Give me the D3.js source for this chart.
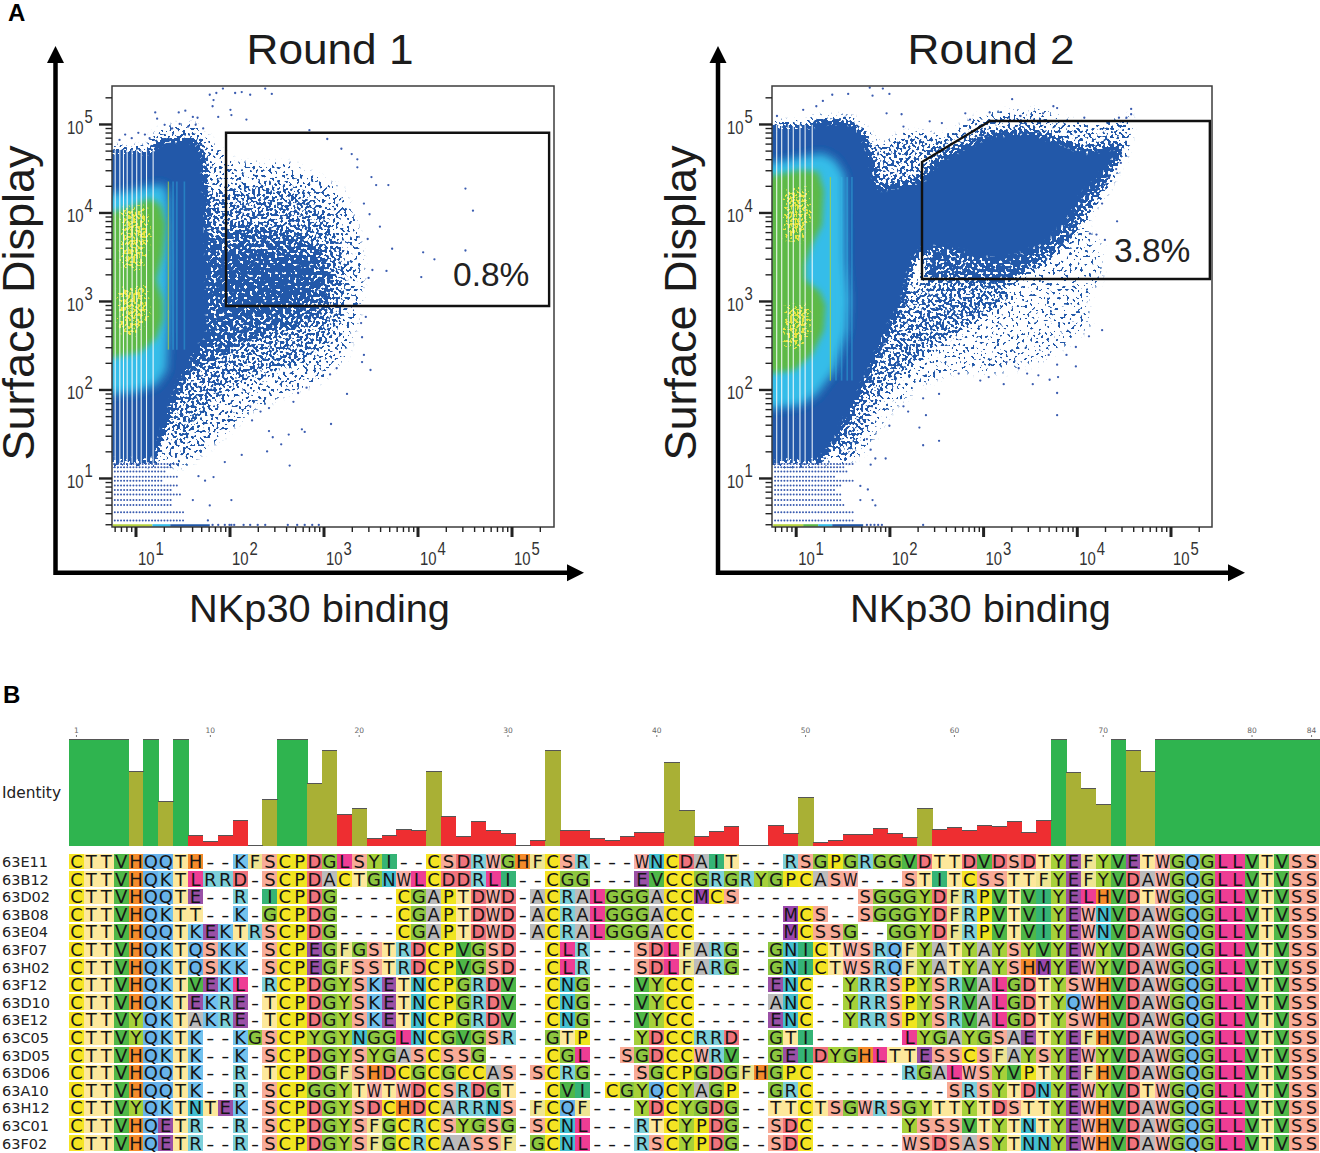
<!DOCTYPE html>
<html><head><meta charset="utf-8"><title>NKp30 binding rounds and alignment</title>
<script src="https://cdn.jsdelivr.net/npm/d3@7/dist/d3.min.js"></script>
<style>html,body{margin:0;background:#fff}svg{display:block}</style></head>
<body><svg id="fig" width="1320" height="1153" xmlns="http://www.w3.org/2000/svg"></svg>
<script>
// ---------- Panel A data: all values are log10 decades ----------
const decadeLabels = [1,2,3,4,5];
const whiteChannels1 = [6.08,6.81,7.45,8.16,9.2,10.3,11.5,13.1,15.4];
const whiteChannels2 = [6.27,7.09,8.33,9.42,11.1,12.6,15.0];
const streaks1 = [1.35,1.40,1.44,1.52];
const streaks2 = [1.37,1.43,1.49,1.55,1.60];
const rowLevels = [14.4,13.2,11.8,10.3,9.3,8.2,7.3,6.5,5.65,4.96,4.1,3.3];
const rowEnds1 = [1.47,1.39,1.31,1.44,1.29,1.45,1.40,1.49,1.40,1.40,1.53,1.53];
const rowEnds2 = [1.63,1.54,1.56,1.44,1.61,1.49,1.42,1.49,1.50,1.53,1.61,1.61];
const bottomEdges1 = [0.76,1.18,1.37,1.79];
const bottomEdges2 = [0.76,1.08,1.24,1.39,1.72];

const gate1 = [[1.963,4.90],[5.40,4.90],[5.40,2.943],[1.963,2.943]];
const gate2 = [[2.348,4.571],[3.074,5.034],[5.42,5.034],[5.42,3.249],[2.348,3.249]];

// density zones, panel 1
const sparse1 = [[1.15,4.82],[1.31,4.95],[1.63,4.99],[1.81,4.76],[2.06,4.54],[2.64,4.54],[3.18,4.25],[3.34,3.86],[3.41,3.35],[3.37,2.90],[3.23,2.39],[2.96,2.11],[2.59,1.97],[2.22,1.77],[1.85,1.43],[1.53,1.15],[1.31,1.15],[1.47,2.45],[1.74,4.14]];
const medium1 = [[1.76,4.20],[2.11,4.31],[2.70,4.28],[3.05,3.97],[3.23,3.46],[3.23,2.95],[3.02,2.50],[2.70,2.28],[2.32,2.16],[2.01,2.02],[1.74,1.77],[1.53,1.43],[1.37,1.37],[1.53,2.45]];
const dense1 = [[1.76,3.69],[2.11,3.86],[2.64,3.78],[2.98,3.58],[3.12,3.24],[3.02,2.88],[2.64,2.69],[2.11,2.50],[1.79,2.31],[1.58,2.16]];
const core1 = [[2.11,3.58],[2.75,3.52],[2.96,3.24],[2.75,2.95],[2.22,2.84],[1.95,2.76],[1.80,3.2]];
const solid1 = [[0.5,4.71],[1.15,4.71],[1.24,4.82],[1.37,4.84],[1.53,4.85],[1.66,4.82],[1.74,4.65],[1.76,4.37],[1.78,3.5],[1.79,2.6],[1.63,2.39],[1.51,2.11],[1.42,1.88],[1.35,1.60],[1.28,1.43],[1.22,1.17],[0.5,1.17]];
const cyan1 = [[0.6,4.20],[0.89,4.23],[1.15,4.30],[1.31,4.31],[1.35,4.14],[1.36,3.46],[1.35,2.67],[1.33,2.22],[1.22,2.05],[0.99,1.97],[0.6,1.94]];
const green1 = [[0.6,3.97],[0.94,4.06],[1.15,4.16],[1.27,4.08],[1.32,3.86],[1.29,3.52],[1.22,3.24],[1.29,3.01],[1.29,2.79],[1.22,2.58],[1.05,2.42],[0.6,2.33]];
const yellowA1 = [[0.86,4.03],[1.10,4.06],[1.15,3.75],[1.05,3.35],[0.86,3.41]];
const yellowB1 = [[0.83,3.12],[1.10,3.18],[1.13,2.84],[0.99,2.62],[0.83,2.67]];
const outliers1 = [[4.51,4.27],[4.59,4.02],[4.51,3.57],[4.18,3.47],[4.06,3.55],[4.04,3.27],[3.67,3.34],[3.73,3.59],[3.52,3.35],[3.48,3.26],[3.69,4.31],[3.56,4.31],[3.51,4.40],[3.60,3.84],[2.85,4.93],[3.04,4.83],[3.19,4.72],[3.30,4.66],[3.36,4.60],[3.36,4.51],[3.43,4.10],[3.49,3.98],[3.47,3.70],[3.45,2.82],[3.40,2.75],[3.41,2.59],[3.43,2.39],[3.41,2.31],[3.50,2.22],[3.25,1.95],[2.82,2.02],[3.14,2.24],[3.07,2.17],
[1.79,5.33],[1.83,5.27],[1.86,5.35],[2.06,5.35],[2.13,5.36],[2.22,5.33],[2.38,5.40],[2.45,5.34],[1.93,5.40],[1.82,5.20],[2.01,5.16],[2.02,5.10],[2.18,5.05],[1.88,5.08],[1.66,5.07],[1.21,5.13],[1.23,5.06],[1.53,5.15],[1.46,5.13],[1.61,5.08],
[0.83,4.82],[0.89,4.88],[0.96,4.84],[1.03,4.90],[1.10,4.88],[1.15,4.84],[1.31,4.99],[1.39,4.95],[1.47,5.0],[1.56,4.97],[1.64,4.99],[1.72,4.95],
[3.08,1.61],[2.64,1.14],[2.68,1.86],[2.73,1.96],[2.77,1.55],[2.80,1.52],[2.63,1.49],[2.55,1.38],[2.40,1.30],[2.13,1.26],[2.46,1.46],[2.42,1.53],[2.33,1.75],[2.24,1.65],[2.22,1.81],[2.42,1.79],[1.95,1.18],[1.83,1.01],[1.74,0.97],[1.67,1.02],[2.02,0.75],[1.79,0.69],[1.61,0.75],[1.77,0.52],
[1.82,0.47],[1.88,0.47],[1.95,0.47],[2.0,0.47],[2.02,0.47],[2.05,0.47],[2.15,0.47],[2.22,0.47],[2.3,0.47],[2.38,0.47],[2.62,0.47],[2.72,0.47],[2.8,0.47],[2.88,0.47],[2.95,0.47]];

// density zones, panel 2
const sparse2 = [[3.61,3.63],[4.09,3.82],[4.25,3.63],[4.25,3.26],[4.09,3.01],[4.14,2.73],[3.87,2.50],[3.61,2.33],[3.18,2.20],[2.65,2.20],[2.33,2.05],[2.01,1.77],[1.74,1.32],[1.53,1.18],[2.11,2.56],[2.65,3.24]];
const mediumA2 = [[2.89,3.24],[3.23,3.18],[3.29,3.01],[2.75,2.67],[2.43,2.45],[2.11,2.16],[1.90,1.94],[1.75,1.60],[1.63,1.26],[1.45,1.17],[1.42,1.37],[1.58,1.77],[1.79,2.22],[2.17,3.01],[2.33,3.24]];
const mediumB2 = [[1.71,4.95],[1.90,4.73],[2.17,4.88],[2.38,4.88],[2.59,4.82],[2.75,4.54],[2.38,4.37],[1.95,4.23],[1.85,4.46]];
const mediumC2 = [[2.43,4.71],[2.65,4.88],[3.02,5.10],[3.61,5.14],[3.82,5.05],[4.14,4.95],[4.57,5.07],[4.55,4.82],[4.50,4.62],[4.09,4.48],[3.18,4.54]];
const denseD2 = [[4.49,4.68],[4.30,4.25],[4.14,4.03],[4.01,3.78],[3.82,3.58],[3.55,3.37],[3.23,3.18],[2.75,3.24],[2.38,3.24],[2.38,3.58],[3.18,3.52],[3.72,3.75],[4.03,4.20],[4.30,4.54]];
const solid2 = [[0.5,4.99],[1.15,4.99],[1.21,5.05],[1.58,5.05],[1.71,4.93],[1.79,4.71],[1.85,4.48],[1.90,4.29],[2.33,4.37],[2.49,4.59],[2.75,4.74],[3.07,4.90],[3.50,4.93],[3.82,4.82],[4.09,4.71],[4.30,4.74],[4.44,4.79],[4.48,4.71],[4.25,4.37],[4.07,4.18],[3.90,3.88],[3.72,3.66],[3.39,3.50],[3.18,3.44],[2.91,3.49],[2.59,3.58],[2.38,3.58],[2.27,3.44],[2.22,3.24],[2.17,3.01],[1.95,2.56],[1.79,2.16],[1.69,1.94],[1.56,1.66],[1.42,1.37],[1.28,1.17],[0.5,1.17]];
const cyan2 = [[0.6,4.54],[1.05,4.62],[1.28,4.67],[1.42,4.59],[1.52,4.42],[1.53,3.46],[1.57,3.01],[1.55,2.67],[1.42,2.22],[1.22,1.94],[1.05,1.82],[0.6,1.77]];
const green2 = [[0.6,4.39],[1.05,4.48],[1.24,4.46],[1.30,4.25],[1.28,3.86],[1.17,3.63],[1.10,3.41],[1.10,3.24],[1.26,3.10],[1.32,2.95],[1.30,2.67],[1.17,2.39],[0.99,2.22],[0.6,2.16]];
const yellowA2 = [[0.89,4.23],[1.13,4.28],[1.15,3.97],[1.05,3.69],[0.89,3.71]];
const yellowB2 = [[0.89,2.92],[1.13,2.95],[1.15,2.67],[1.02,2.47],[0.89,2.50]];
const outliers2 = [[3.31,5.28],[3.75,5.20],[3.79,5.18],[4.58,5.17],[4.58,5.11],[4.53,5.07],[4.45,5.07],[4.08,5.07],[3.64,5.12],[3.40,5.09],[4.43,3.90],[4.14,3.76],[4.21,3.75],[4.30,3.69],[4.27,2.67],[4.13,2.60],[3.99,2.26],[3.80,2.14],[3.71,2.11],[3.59,2.16],[3.47,2.18],[3.38,2.24],[3.25,2.31],[3.70,2.39],[3.89,2.39],[3.99,2.48],[3.79,2.28],[4.42,4.49],[4.47,4.56],[4.34,4.39],[4.27,4.10],
[1.79,5.41],[1.93,5.40],[2.00,5.34],[1.82,5.32],[1.56,5.34],[1.39,5.33],[1.29,5.26],[1.22,5.20],[1.08,5.16],[0.80,5.09],[2.13,5.11],[2.43,5.03],[2.56,5.01],[2.81,5.12],[2.86,5.05],[3.07,5.13],[1.97,5.12],[2.15,4.97],
[2.36,1.37],[2.53,1.42],[2.32,1.57],[2.0,1.59],[1.96,1.22],[1.85,1.22],[1.80,1.15],[1.80,1.32],[1.76,1.44],[1.77,0.87],[1.69,0.91],[1.69,0.75],[1.82,0.75],[1.85,0.69],[2.39,1.71],[2.20,1.75],[2.15,1.81],[3.79,1.71],[3.79,1.96],[3.22,2.06],[2.97,2.10],[3.53,2.06],[3.06,2.14],[2.53,1.95],[2.36,1.90],[2.74,2.18],
[1.76,0.47],[1.80,0.47],[1.84,0.47],[1.88,0.47],[1.92,0.47],[2.36,0.47]];

// ---------- Panel B data ----------
const cloneNames = ["63E11","63B12","63D02","63B08","63E04","63F07","63H02","63F12","63D10","63E12","63C05","63D05","63D06","63A10","63H12","63C01","63F02"];
const sequences = [
"CTTVHQQTH--KFSCPDGLSYI--CSDRWGHFCSR---WNCDAIT---RSGPGRGGVDTTDVDSDTYEFYVETWGQGLLVTVSS",
"CTTVHQKTLRRD-SCPDACTGNWLCDDRLI--CGG---EVCCGRGRYGPCASW---STITCSSTTFYEFYVDAWGQGLLVTVSS",
"CTTVHQQTE--R-ICPDG----CGAPTDWD-ACRALGGGACCMCS--------SGGGYDFRPVTVIYELHVDTWGQGLLVTVSS",
"CTTVHQKTT--K-GCPDG----CGAPTDWD-ACRALGGGACC------MCS--SGGGYDFRPVTVIYEWNVDAWGQGLLVTVSS",
"CTTVHQQTKEKTRSCPDG----CGAPTDWD-ACRALGGGACC------MCSSG--GGYDFRPVTVIYEWNVDAWGQGLLVTVSS",
"CTTVHQKTQSKK-SCPEGFGSTRDCPVGSD--CLR---SDLFARG--GNICTWSRQFYATYAYSYVYEWYVDAWGQGLLVTVSS",
"CTTVHQKTQSKK-SCPEGFSSTRDCPVGSD--CLR---SDLFARG--GNICTWSRQFYATYAYSHMYEWYVDAWGQGLLVTVSS",
"CTTVHQKTVEKL-RCPDGYSKETNCPGRDV--CNG---VYCC-----ENC--YRRSPYSRVALGDTYSWHVDAWGQGLLVTVSS",
"CTTVHQKTEKRE-TCPDGYSKETNCPGRDV--CNG---VYCC-----ANC--YRRSPYSRVALGDTYQWHVDAWGQGLLVTVSS",
"CTTVYQKTAKRE-TCPDGYSKETNCPGRDV--CNG---VYCC-----ENC--YRRSPYSRVALGDTYSWHVDAWGQGLLVTVSS",
"CTTVYQKTK--KGSCPYGYNGGLNCGVGSR--GTP---YDCCRRD--GTI------LYGAYGSAETYEFHVDAWGQGLLVTVSS",
"CTTVHQKTK--K-SCPDGYSYGASCSSG----CGL--SGDCCWRV--GEIDYGHLTTESSCSFAYSYEWYVDAWGQGLLVTVSS",
"CTTVHQQTK--R-TCPDGFSHDCGCGCCAS-SCRG---SGCPGDGFHGPC------RGALWSYVPTYEFHVDAWGQGLLVTVSS",
"CTTVHQQTK--R-SCPGGYTWTWDCSRDGT--CVI-CGYQCYAGP--GRC---------SRSYTDNYEWYVDTWGQGLLVTVSS",
"CTTVYQKTNTEK-SCPDGYSDCHDCARRNS-FCQF---YDCYGDG--TTCTSGWRSGYTTYTDSTTYEWHVDAWGQGLLVTVSS",
"CTTVHQETR--R-SCPDGYSFGCRCSYGSG-SCNL---RTCYPDG--SDC------YSSSVTYTNTYEWHVDAWGQGLLVTVSS",
"CTTVHQETR--R-SCPDGYSFGCRCAASSF-GCNL---RSCYPDG--SDC------WSDSASYTNNYEWHVDAWGQGLLVTVSS"];
const identity = [100,100,100,100,69.4,100,41.6,100,9.7,3.75,9.7,24,0.3,43,100,100,58.75,89,29.7,35,6.6,9.7,15.6,14.4,69.4,27.5,8.75,22.8,14.4,11.6,0.3,5.3,89,14.4,14.4,7.2,5.3,8.75,12,12,78,32.8,8.75,13.4,17.8,0.3,0.3,18.75,11.6,45.6,2.8,5.3,10.6,10.6,16.25,11.6,8,34.4,15,17,14.4,18.75,17.8,23,12,24,100,68.75,53.75,38.75,100,89,69.4,100,100,100,100,100,100,100,100,100,100,100];
const rulerMarks = [1,10,20,30,40,50,60,70,80,84];

// ---------- Styles ----------
const residueColors = {C:"#f5e423",P:"#efe51f",T:"#fde89b",S:"#f8ab97",G:"#8dc63f",V:"#4fb748",Y:"#a6d13a",H:"#f58b2b",Q:"#68b3ea",K:"#72c2ee",R:"#7dd0da",N:"#43bfd0",D:"#f0737c",E:"#9a50a6",L:"#ee3d94",I:"#35b476",W:"#f7b0a8",F:"#efe592",A:"#bcbcbc",M:"#9b47ae"};
const BLUE="#2058a9", DOT="#3a5cb0", CYAN="#35bde9", GREEN="#5db947", YELLOW="#e4e340";
const bandColors1=["#b4d23c",CYAN,BLUE], bandColors2=["#b4d23c",GREEN,CYAN,BLUE];
const SANS="'Liberation Sans',Arial,sans-serif", DEJA="'DejaVu Sans',sans-serif";

const svg=d3.select("#fig");
const defs=svg.append("defs");
// Density zones are shown as a cloud of dots: the zone mask is softened and cut by an SVG noise texture.
function cloudFilter(id,color,freq,octaves,seed,blur){
  const f=defs.append("filter").attr("id",id).attr("filterUnits","userSpaceOnUse")
    .attr("x",0).attr("y",0).attr("width",1320).attr("height",620).attr("color-interpolation-filters","sRGB");
  f.append("feGaussianBlur").attr("in","SourceAlpha").attr("stdDeviation",blur).attr("result","m");
  f.append("feTurbulence").attr("type","fractalNoise").attr("baseFrequency",freq).attr("numOctaves",octaves).attr("seed",seed).attr("result","t");
  const n=f.append("feComponentTransfer").attr("in","t").attr("result","n");
  n.append("feFuncA").attr("type","linear").attr("slope",3).attr("intercept",-1);
  f.append("feComposite").attr("in","m").attr("in2","n").attr("operator","arithmetic")
    .attr("k1",0).attr("k2",1.12).attr("k3",1).attr("k4",-1).attr("result","d");
  const th=f.append("feComponentTransfer").attr("in","d").attr("result","th");
  th.append("feFuncA").attr("type","linear").attr("slope",9).attr("intercept",0);
  f.append("feFlood").attr("flood-color",color).attr("result","fl");
  f.append("feComposite").attr("in","fl").attr("in2","th").attr("operator","in");
}
cloudFilter("cloudBlue",BLUE,0.36,1,3,3);
cloudFilter("cloudYellow",YELLOW,0.42,1,8,2);
[["blur5",5],["blur3",3],["soft",0.35]].forEach(([id,s])=>{
  defs.append("filter").attr("id",id).attr("x","-20%").attr("y","-20%").attr("width","140%").attr("height","140%")
    .append("feGaussianBlur").attr("stdDeviation",s);
});

function panel(cfg){
  const xL=cfg.xRange, yL=[527,86];
  const x=d3.scaleLog().domain([Math.pow(10,cfg.xDomain[0]),Math.pow(10,cfg.xDomain[1])]).range(xL);
  const y=d3.scaleLog().domain([Math.pow(10,0.446),Math.pow(10,5.429)]).range(yL);
  const X=a=>x(Math.pow(10,a)), Y=b=>y(Math.pow(10,b));
  const poly=d3.line().x(d=>X(d[0])).y(d=>Y(d[1])).curve(d3.curveLinearClosed);
  const g=svg.append("g").attr("class","panel");
  defs.append("clipPath").attr("id",cfg.id).append("rect").attr("x",xL[0]).attr("y",yL[1]).attr("width",xL[1]-xL[0]).attr("height",yL[0]-yL[1]);
  const plot=g.append("g").attr("clip-path",`url(#${cfg.id})`).append("g").attr("filter","url(#soft)");

  const cloud=plot.append("g").attr("filter","url(#cloudBlue)");
  cfg.zones.forEach(([pts,a])=>cloud.append("path").attr("d",poly(pts)).attr("fill","#000").attr("fill-opacity",a));
  plot.append("path").attr("d",poly(cfg.cyan)).attr("fill",CYAN).attr("filter","url(#blur5)");
  plot.append("path").attr("d",poly(cfg.green)).attr("fill",GREEN).attr("filter","url(#blur3)");
  const yel=plot.append("g").attr("filter","url(#cloudYellow)");
  cfg.yellow.forEach(p=>yel.append("path").attr("d",poly(p)).attr("fill","#000").attr("fill-opacity",.5));
  plot.selectAll("line.streak").data(cfg.streaks).join("line").attr("class","streak")
    .attr("x1",d=>X(d)).attr("x2",d=>X(d)).attr("y1",Y(cfg.streakTop)).attr("y2",Y(cfg.streakBot))
    .attr("stroke",(d,i)=>i==0?"#a9d23f":CYAN).attr("stroke-width",(d,i)=>i==0?1.3:1.6).attr("opacity",(d,i)=>i==0?.7:.4);
  plot.selectAll("line.ch").data(cfg.channels).join("line").attr("class","ch")
    .attr("x1",d=>x(d)).attr("x2",d=>x(d)).attr("y1",Y(cfg.top)).attr("y2",Y(1.17))
    .attr("stroke","#fff").attr("stroke-width",1.1).attr("opacity",.9);
  plot.selectAll("line.row").data(rowLevels).join("line").attr("class","row")
    .attr("x1",X(0.78)).attr("x2",(d,i)=>X(cfg.rowEnds[i])).attr("y1",d=>y(d)).attr("y2",d=>y(d))
    .attr("stroke",DOT).attr("stroke-width",2).attr("stroke-linecap","round").attr("stroke-dasharray","0 3.1");
  d3.pairs(cfg.edges).forEach(([a,b],i)=>plot.append("line").attr("x1",X(a)).attr("x2",X(b)).attr("y1",525.5).attr("y2",525.5)
    .attr("stroke",cfg.bandColors[i]).attr("stroke-width",2.6));
  plot.selectAll("circle").data(cfg.outliers).join("circle").attr("cx",d=>X(d[0])).attr("cy",d=>Y(d[1])).attr("r",1.15).attr("fill",DOT);

  g.append("rect").attr("x",xL[0]).attr("y",yL[1]).attr("width",xL[1]-xL[0]).attr("height",yL[0]-yL[1]).attr("fill","none").attr("stroke","#3c3c3c").attr("stroke-width",1.5);
  const ticks=(lo,hi)=>{const t=[];for(let e=0;e<=5;e++)for(let m=1;m<10;m++){const v=m*Math.pow(10,e);if(v>=lo&&v<=hi)t.push(v);}return t;};
  const isMajor=v=>Math.abs(Math.log10(v)-Math.round(Math.log10(v)))<1e-9;
  const ax=g.append("g").attr("transform",`translate(0,${yL[0]})`)
    .call(d3.axisBottom(x).tickValues(ticks(x.domain()[0],x.domain()[1])).tickFormat("").tickSizeOuter(0));
  ax.select(".domain").remove();
  ax.selectAll(".tick line").attr("y2",d=>isMajor(d)?10:5).attr("stroke","#222").attr("stroke-width",d=>isMajor(d)?3:1.4);
  const ay=g.append("g").attr("transform",`translate(${xL[0]},0)`)
    .call(d3.axisLeft(y).tickValues(ticks(y.domain()[0],y.domain()[1])).tickFormat("").tickSizeOuter(0));
  ay.select(".domain").remove();
  ay.selectAll(".tick line").attr("x2",d=>isMajor(d)?-13:-6.5).attr("stroke","#222").attr("stroke-width",d=>isMajor(d)?2.4:1.4);
  const lab=(px,py,e)=>{const t=g.append("text").attr("transform",`translate(${px},${py}) scale(.85,1)`).attr("font-family",SANS).attr("font-size",17.5).attr("fill","#333");
    t.append("tspan").text("10");t.append("tspan").attr("dy",-10.5).attr("dx",1).text(e);};
  decadeLabels.forEach(e=>{lab(x(Math.pow(10,e))+2.5,565,e);lab(xL[0]-45,y(Math.pow(10,e))+10,e);});
  g.append("path").attr("d",poly(cfg.gate)).attr("fill","none").attr("stroke","#111").attr("stroke-width",2.4).attr("stroke-linejoin","miter");
  g.append("text").attr("x",cfg.pctX).attr("y",cfg.pctY).attr("font-family",SANS).attr("font-size",33.5).attr("fill","#222").text(cfg.pct);
  const ox=cfg.ox, oy=572.7, ex=cfg.ex;
  g.append("path").attr("d",`M${ox},60 V${oy} H${ex-14}`).attr("fill","none").attr("stroke","#000").attr("stroke-width",4.5);
  g.append("path").attr("d",`M${ex},${oy} L${ex-17},${oy-8.5} V${oy+8.5} Z M${ox},46 L${ox-8.5},63 H${ox+8.5} Z`).attr("fill","#000");
  const big=(txt,px,py,fs,len)=>g.append("text").attr("x",px).attr("y",py).attr("text-anchor","middle").attr("font-family",SANS).attr("font-size",fs).attr("fill","#1c1c1c").attr("textLength",len).attr("lengthAdjust","spacingAndGlyphs").text(txt);
  big(cfg.title,cfg.titleX,64,43,167);
  big("NKp30 binding",cfg.xlabX,622,39.5,261);
  g.append("text").attr("transform",`translate(${cfg.ylabX},303) rotate(-90)`).attr("text-anchor","middle").attr("font-family",SANS).attr("font-size",44).attr("fill","#1c1c1c").attr("textLength",315).attr("lengthAdjust","spacingAndGlyphs").text("Surface Display");
}

panel({id:"p1",xRange:[112,554],xDomain:[0.75,5.452],channels:whiteChannels1,streaks:streaks1,streakTop:4.35,streakBot:2.45,top:4.71,
  rowEnds:rowEnds1,edges:bottomEdges1,bandColors:bandColors1,outliers:outliers1,gate:gate1,
  zones:[[sparse1,.24],[medium1,.3],[dense1,.45],[core1,.6],[solid1,1]],
  cyan:cyan1,green:green1,yellow:[yellowA1,yellowB1],pct:"0.8%",pctX:453,pctY:286,ox:55.5,ex:584,title:"Round 1",titleX:330,xlabX:319.5,ylabX:34});
panel({id:"p2",xRange:[772,1212],xDomain:[0.747,5.443],channels:whiteChannels2,streaks:streaks2,streakTop:4.4,streakBot:2.1,top:4.99,
  rowEnds:rowEnds2,edges:bottomEdges2,bandColors:bandColors2,outliers:outliers2,gate:gate2,
  zones:[[sparse2,.14],[mediumA2,.42],[mediumB2,.4],[mediumC2,.34],[denseD2,.7],[solid2,1]],
  cyan:cyan2,green:green2,yellow:[yellowA2,yellowB2],pct:"3.8%",pctX:1114,pctY:262,ox:718,ex:1245,title:"Round 2",titleX:991,xlabX:980.5,ylabX:696});

[["A",8,21],["B",3,703]].forEach(([t,px,py])=>svg.append("text").attr("x",px).attr("y",py).attr("font-family",SANS).attr("font-weight",700).attr("font-size",24).attr("fill","#000").text(t));

// ---------- Panel B ----------
const columns=d3.range(1,85);
const colX=d3.scaleBand().domain(columns).range([69,1319]);
const idY=d3.scaleLinear().domain([0,100]).range([846,739.3]);
const idColor=v=>v>=100?"#2fb44f":v>=30?"#a9b035":"#ee2e31";
const B=svg.append("g").attr("class","alignment");
B.selectAll("rect.bar").data(identity).join("rect").attr("class","bar").attr("shape-rendering","crispEdges")
  .attr("x",(d,i)=>colX(i+1)).attr("y",d=>idY(d)).attr("width",colX.bandwidth()+.5).attr("height",d=>idY(0)-idY(d)).attr("fill",d=>idColor(d));
B.selectAll("rect.cap").data(identity).join("rect").attr("class","cap").attr("shape-rendering","crispEdges")
  .attr("x",(d,i)=>colX(i+1)).attr("y",d=>idY(d)-.8).attr("width",colX.bandwidth()+.5).attr("height",1).attr("fill","#555");
B.selectAll("text.rul").data(rulerMarks).join("text").attr("class","rul")
  .attr("x",d=>colX(d)+colX.bandwidth()/2).attr("y",733).attr("text-anchor","middle").attr("font-family",DEJA).attr("font-size",7.5).attr("fill","#666").text(d=>d);
B.selectAll("line.rul").data(rulerMarks).join("line").attr("class","rul")
  .attr("x1",d=>colX(d)+colX.bandwidth()/2).attr("x2",d=>colX(d)+colX.bandwidth()/2).attr("y1",735).attr("y2",737).attr("stroke","#555").attr("stroke-width",.8);
B.append("text").attr("x",2).attr("y",798).attr("font-family",DEJA).attr("font-size",15.4).attr("fill","#222").text("Identity");

const rowY=d3.scaleBand().domain(cloneNames).range([853,1152.2]);
const rows=B.selectAll("g.seq").data(cloneNames.map((n,i)=>({n,s:sequences[i]}))).join("g").attr("class","seq")
  .attr("transform",d=>`translate(0,${rowY(d.n)})`);
rows.append("text").attr("x",2).attr("y",14).attr("font-family",DEJA).attr("font-size",14.5).attr("fill","#222").text(d=>d.n);
const glyphFit={W:.82,M:.93,"-":1.25};
rows.each(function(d){
  const g=d3.select(this), cells=d.s.split("").map((c,i)=>({c,col:i+1}));
  g.selectAll("rect").data(cells.filter(e=>e.c!=="-")).join("rect").attr("shape-rendering","crispEdges")
    .attr("x",e=>colX(e.col)).attr("y",0.6).attr("width",colX.bandwidth()+.4).attr("height",15.6).attr("fill",e=>residueColors[e.c]);
  g.selectAll("text.res").data(cells).join("text").attr("class","res")
    .attr("transform",e=>`translate(${colX(e.col)+colX.bandwidth()/2},15) scale(${glyphFit[e.c]||1},1)`)
    .attr("text-anchor","middle").attr("font-family",DEJA).attr("font-size",18).attr("fill","#151515").text(e=>e.c);
});
</script></body></html>
